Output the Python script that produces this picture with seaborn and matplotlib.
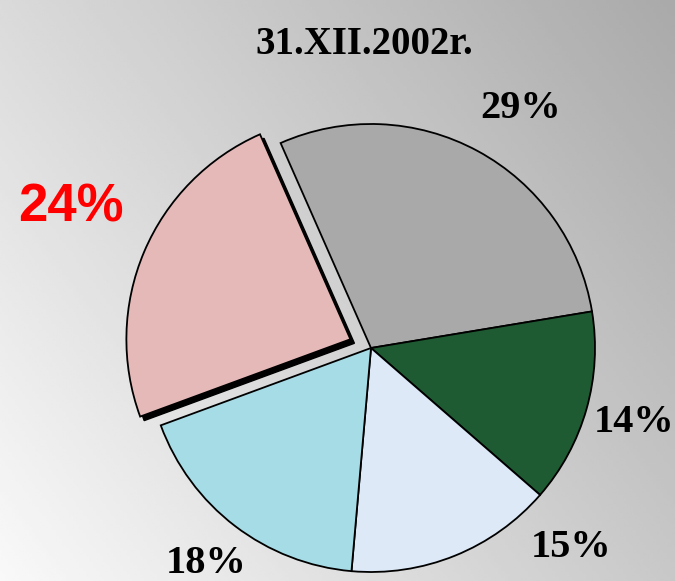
import numpy as np
import matplotlib
matplotlib.use("Agg")
import matplotlib.pyplot as plt
from matplotlib.patches import Wedge
import seaborn as sns

# ---------------------------
# Data
# ---------------------------
title = "31.XII.2002r."
shares = [29, 14, 15, 18, 24]
labels = ["29%", "14%", "15%", "18%", "24%"]
colors = ["#a9a9a9", "#1e5a32", "#dde9f7", "#a6dce6", "#e6b9b9"]
explode = [0, 0, 0, 0, 0.1]

# label placement (polar angle in degrees, distance in radii)
label_angles = [58, -15.8, -45, -127.5, 155]
label_dists = [1.26, 1.22, 1.26, 1.21, 1.48]

sns.set_style("white")

fig = plt.figure(figsize=(6.75, 5.81), dpi=100)

# background gradient (light bottom-left -> darker top-right)
bg = fig.add_axes([0, 0, 1, 1], zorder=0)
gx, gy = np.meshgrid(np.linspace(0, 1, 200), np.linspace(0, 1, 200))
grad = 0.975 - 0.19 * gx - 0.12 * (1 - gy)
bg.imshow(grad, cmap="gray", vmin=0, vmax=1, aspect="auto", extent=[0, 1, 0, 1])
bg.axis("off")

# pie axes: one data unit = pie radius = 224 px, centre at (371, 348) px
ax = fig.add_axes([0, 0, 1, 1], zorder=1)
ax.patch.set_alpha(0)

wedges, texts = ax.pie(
    shares, labels=labels, colors=colors, explode=explode,
    startangle=113.8, counterclock=False, labeldistance=1.26,
    wedgeprops=dict(edgecolor="black", linewidth=1.3),
    textprops=dict(fontsize=29, fontweight="bold", family="Liberation Serif",
                   color="black"),
)

r = 224.0
ax.set_aspect("auto")
ax.set_xlim(-371 / r, (675 - 371) / r)
ax.set_ylim(-(581 - 348) / r, 348 / r)
ax.axis("off")

# dark drop edge under the exploded slice
pink = wedges[4]
sh = Wedge((pink.center[0] + 0.018, pink.center[1] - 0.018), pink.r,
           pink.theta1, pink.theta2, facecolor="black", edgecolor="black", zorder=0.5)
ax.add_patch(sh)
pink.set_zorder(1.5)

# labels centred at their spots
for t, a, d in zip(texts, label_angles, label_dists):
    t.set_position((d * np.cos(np.radians(a)), d * np.sin(np.radians(a))))
    t.set_ha("center")
    t.set_va("center")
texts[4].set_color("red")
texts[4].set_family("Liberation Sans")
texts[4].set_fontsize(38)

fig.text(0.54, 0.923, title, ha="center", va="center", fontsize=28,
         fontweight="bold", family="Liberation Serif", color="black")

fig.savefig("out.png", dpi=100)
